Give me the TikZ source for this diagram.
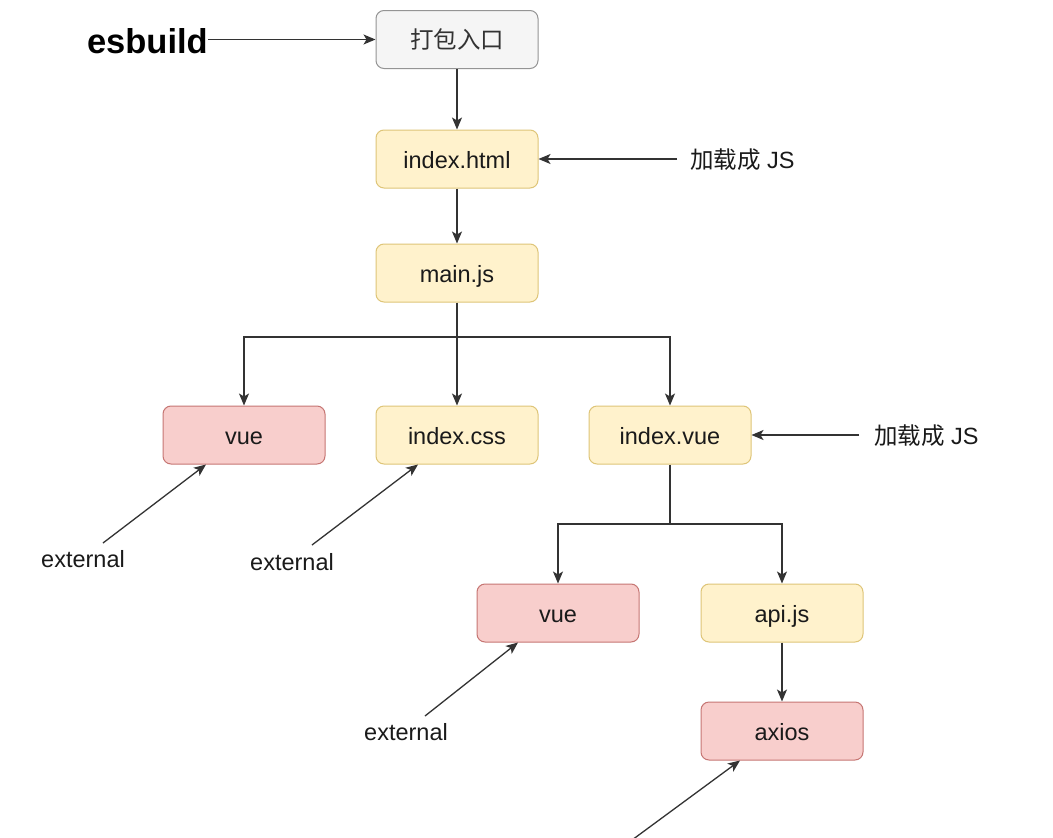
\documentclass[tikz,border=0pt]{standalone}
\usepackage{fontspec}
\setmainfont{Liberation Sans}
\newfontfamily\cjk{Noto Sans CJK SC}
\usetikzlibrary{arrows.meta,calc}
\definecolor{grayfill}{HTML}{F5F5F5}
\definecolor{graydraw}{HTML}{666666}
\definecolor{yelfill}{HTML}{FFF2CC}
\definecolor{yeldraw}{HTML}{D6B656}
\definecolor{redfill}{HTML}{F8CECC}
\definecolor{reddraw}{HTML}{B85450}
\definecolor{txt}{HTML}{1A1A1A}
\definecolor{linec}{HTML}{333333}
\tikzset{
  box/.style={rectangle, rounded corners=8pt, minimum width=162pt, minimum height=58pt, line width=1pt, font=\fontsize{23.5}{27}\selectfont, text=txt, inner sep=0pt, text height=18pt, text depth=0pt},
  graybox/.style={box, fill=grayfill, draw=graydraw!70, text=linec},
  yelbox/.style={box, fill=yelfill, draw=yeldraw!80},
  redbox/.style={box, fill=redfill, draw=reddraw!80},
  lbl/.style={font=\fontsize{23.5}{27}\selectfont, text=txt, inner sep=0pt, text height=18pt, text depth=0pt},
  arr/.style={draw=linec, line width=1.3pt, -{Stealth[length=12pt,width=10pt,inset=3pt]}},
  ln/.style={draw=linec, line width=1.3pt}
}
\begin{document}
\begin{tikzpicture}[x=1pt,y=-1pt]
\useasboundingbox (0,0) rectangle (1053,838);
\fill[white] (0,0) rectangle (1053,838);
% nodes
\node[graybox] (entry) at (457,39.5) {\cjk 打包入口};
\node[yelbox] (html) at (457,159) {index.html};
\node[yelbox] (main) at (457,273) {main.js};
\node[redbox] (vue1) at (244,435) {vue};
\node[yelbox] (css) at (457,435) {index.css};
\node[yelbox] (ivue) at (670,435) {index.vue};
\node[redbox] (vue2) at (558,613) {vue};
\node[yelbox] (api) at (782,613) {api.js};
\node[redbox] (axios) at (782,731) {axios};
% labels
\node[font=\bfseries\fontsize{34.5}{40}\selectfont, text=black, inner sep=0pt, anchor=east, text height=25pt, text depth=0pt] (esb) at (208,41) {esbuild};
\node[lbl, anchor=west] (load1) at (690,159) {{\cjk 加载成} JS};
\node[lbl, anchor=west] (load2) at (874,435) {{\cjk 加载成} JS};
\node[lbl] (ext1) at (83,558) {external};
\node[lbl] (ext2) at (292,561) {external};
\node[lbl] (ext3) at (406,731) {external};
% coordinates
\coordinate (j1) at (457,337);
\coordinate (j2) at (670,524);
\coordinate (l1) at (677,159);
\coordinate (l2) at (859,435);
\coordinate (e1s) at (103,543);
\coordinate (e2s) at (312,545);
\coordinate (e3s) at (425,716);
\coordinate (e4s) at (632,840);
% connectors
\draw[arr] (esb.east |- entry.west) -- (entry.west);
\draw[arr] (entry) -- (html);
\draw[arr] (l1) -- (html.east);
\draw[arr] (html) -- (main);
\draw[arr] (main) -- (css);
\draw[arr] (j1) -| (vue1);
\draw[arr] (j1) -| (ivue);
\draw[arr] (l2) -- (ivue.east);
\draw[ln] (ivue) -- (j2);
\draw[arr] (j2) -| (vue2);
\draw[arr] (j2) -| (api);
\draw[arr] (api) -- (axios);
\draw[arr] (e1s) -- ($(vue1.south)+(-38,0)$);
\draw[arr] (e2s) -- ($(css.south)+(-39,0)$);
\draw[arr] (e3s) -- ($(vue2.south)+(-40,0)$);
\draw[arr] (e4s) -- ($(axios.south)+(-42,0)$);
\end{tikzpicture}
\end{document}
